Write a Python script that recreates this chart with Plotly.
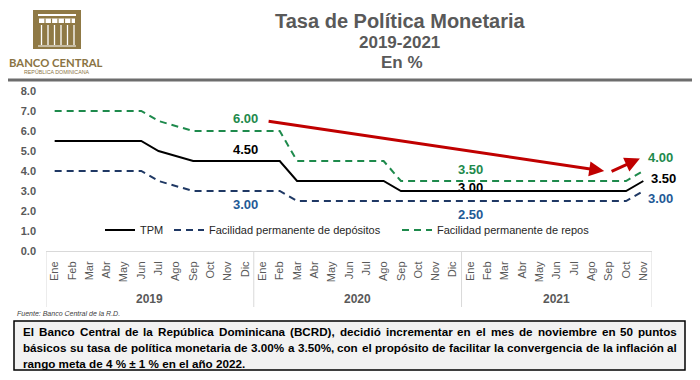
import plotly.graph_objects as go

# ---------------- data ----------------
years = ["2019", "2020", "2021"]
months_2019 = ["Ene", "Feb", "Mar", "Abr", "May", "Jun", "Jul", "Ago", "Sep", "Oct", "Nov", "Dic"]
months_2020 = ["Ene", "Feb", "Mar", "Abr", "May", "Jun", "Jul", "Ago", "Sep", "Oct", "Nov", "Dic"]
months_2021 = ["Ene", "Feb", "Mar", "Abr", "May", "Jun", "Jul", "Ago", "Sep", "Oct", "Nov"]

tpm = [5.50, 5.50, 5.50, 5.50, 5.50, 5.50, 5.00, 4.75, 4.50, 4.50, 4.50, 4.50,
       4.50, 4.50, 3.50, 3.50, 3.50, 3.50, 3.50, 3.50, 3.00, 3.00, 3.00, 3.00,
       3.00, 3.00, 3.00, 3.00, 3.00, 3.00, 3.00, 3.00, 3.00, 3.00, 3.50]
depositos = [4.00, 4.00, 4.00, 4.00, 4.00, 4.00, 3.50, 3.25, 3.00, 3.00, 3.00, 3.00,
             3.00, 3.00, 2.50, 2.50, 2.50, 2.50, 2.50, 2.50, 2.50, 2.50, 2.50, 2.50,
             2.50, 2.50, 2.50, 2.50, 2.50, 2.50, 2.50, 2.50, 2.50, 2.50, 3.00]
repos = [7.00, 7.00, 7.00, 7.00, 7.00, 7.00, 6.50, 6.25, 6.00, 6.00, 6.00, 6.00,
         6.00, 6.00, 4.50, 4.50, 4.50, 4.50, 4.50, 4.50, 3.50, 3.50, 3.50, 3.50,
         3.50, 3.50, 3.50, 3.50, 3.50, 3.50, 3.50, 3.50, 3.50, 3.50, 4.00]

series_names = ["TPM", "Facilidad permanente de depósitos", "Facilidad permanente de repos"]
label_points = [11, 24, 34]          # indices with data labels
y_ticks = [0, 1, 2, 3, 4, 5, 6, 7, 8]

title_lines = ["Tasa de Política Monetaria", "2019-2021", "En %"]
source_text = "Fuente: Banco Central de la R.D."
note_lines = [
    "El Banco Central de la República Dominicana (BCRD), decidió incrementar en el mes de noviembre en 50 puntos",
    "básicos su tasa de política monetaria de 3.00% a 3.50%, con el propósito de facilitar la convergencia de la inflación al",
    "rango meta de 4 % ± 1 % en el año 2022.",
]

# ---------------- layout helpers ----------------
# the page body has an 8px margin, so the figure is 8px smaller than the window
OFF = 8
W, H = 700 - OFF, 380 - OFF
ML, MR, MT, MB = 46 - OFF, 48, 91 - OFF, 129
PW, PH = W - ML - MR, H - MT - MB


def PX(x):   # window pixel x -> paper x
    return (x - OFF - ML) / PW


def PY(y):   # window pixel y -> paper y
    return (H - MB - (y - OFF)) / PH


months = months_2019 + months_2020 + months_2021
idx = list(range(len(months)))

C_TPM = "#000000"
C_DEP = "#1F3864"
C_REP = "#1E8A4C"
C_DEP_LBL = "#1F5A96"
C_REP_LBL = "#1E8A4C"
GRAY = "#595959"
FONT = "Liberation Sans, Arial, sans-serif"

fig = go.Figure()
fig.add_trace(go.Scatter(x=idx, y=tpm, mode="lines", name=series_names[0], legend="legend",
                         line=dict(color=C_TPM, width=2)))
fig.add_trace(go.Scatter(x=idx, y=depositos, mode="lines", name=series_names[1], legend="legend2",
                         line=dict(color=C_DEP, width=2, dash="7px,5px")))
fig.add_trace(go.Scatter(x=idx, y=repos, mode="lines", name=series_names[2], legend="legend3",
                         line=dict(color=C_REP, width=2, dash="7px,5px")))

ann = []
shapes = []


def text_ann(x, y, text, font, xanchor="center", yanchor="middle", xref="paper", yref="paper", **kw):
    d = dict(x=x, y=y, xref=xref, yref=yref, text=text, showarrow=False,
             xanchor=xanchor, yanchor=yanchor, font=font)
    d.update(kw)
    ann.append(d)


# data labels
lbl_font = dict(family=FONT, size=13, weight="bold")
offsets = {
    11: dict(rep=(0, 13), tpm=(0, 12), dep=(0, -13)),
    24: dict(rep=(0, 12), tpm=(0, 4), dep=(0, -13)),
    34: dict(rep=(17, 14), tpm=(20, 3), dep=(17, -7)),
}
for i in label_points:
    o = offsets[i]
    for key, ser, col in (("rep", repos, C_REP_LBL), ("tpm", tpm, C_TPM), ("dep", depositos, C_DEP_LBL)):
        text_ann(i, ser[i], f"{ser[i]:.2f}", dict(color=col, **lbl_font), xref="x", yref="y",
                 xshift=o[key][0], yshift=o[key][1])

# red arrows (decoration)
arrow1 = dict(tail=(12.27, 6.50), tip=(31.74, 4.00))
arrow2 = dict(tail=(32.08, 3.95), tip=(33.80, 4.63))
for a in (arrow1, arrow2):
    ann.append(dict(x=a["tip"][0], y=a["tip"][1], ax=a["tail"][0], ay=a["tail"][1],
                    xref="x", yref="y", axref="x", ayref="y", text="", showarrow=True,
                    arrowhead=2, arrowsize=1.0, arrowwidth=3, arrowcolor="#C00000"))

# category table below axis
groups = [months_2019, months_2020, months_2021]
start = 0
bounds = [-0.5]
for yr, g in zip(years, groups):
    center = start + (len(g) - 1) / 2
    text_ann(center, PY(299), yr, dict(family=FONT, size=12, weight="bold", color=GRAY), xref="x")
    start += len(g)
    bounds.append(start - 0.5)
for b in bounds:
    shapes.append(dict(type="line", xref="x", yref="paper", x0=b, x1=b, y0=0, y1=PY(307),
                       line=dict(color="#d9d9d9", width=1)))

# title
for txt, yy, sz, xx in zip(title_lines, (21, 42, 62), (20, 17, 17), (400.5, 399.5, 401.5)):
    text_ann(PX(xx), PY(yy), txt, dict(family=FONT, size=sz, weight="bold", color=GRAY))

# header rule
shapes.append(dict(type="line", xref="paper", yref="paper", x0=PX(8), x1=PX(692), y0=PY(80), y1=PY(80),
                   line=dict(color="#6d6d6d", width=3)))

# logo
GOLD = "#8F7945"
shapes.append(dict(type="rect", xref="paper", yref="paper", x0=PX(33), x1=PX(81), y0=PY(49), y1=PY(10),
                   fillcolor=GOLD, line=dict(width=0)))
shapes.append(dict(type="rect", xref="paper", yref="paper", x0=PX(38), x1=PX(76), y0=PY(16), y1=PY(14),
                   fillcolor="white", line=dict(width=0)))
shapes.append(dict(type="rect", xref="paper", yref="paper", x0=PX(39), x1=PX(75), y0=PY(23), y1=PY(18.5),
                   fillcolor="white", line=dict(width=0)))
for cx in (45, 51.5, 58, 64.5, 71):
    shapes.append(dict(type="line", xref="paper", yref="paper", x0=PX(cx), x1=PX(cx), y0=PY(23), y1=PY(18.5),
                       line=dict(color=GOLD, width=1.2)))
for cx in (41.5, 48, 54.5, 61, 67.5, 74):
    shapes.append(dict(type="line", xref="paper", yref="paper", x0=PX(cx), x1=PX(cx), y0=PY(45), y1=PY(25),
                       line=dict(color="white", width=1.3)))
shapes.append(dict(type="line", xref="paper", yref="paper", x0=PX(38), x1=PX(76), y0=PY(46), y1=PY(46),
                   line=dict(color="white", width=1.2)))
text_ann(PX(56), PY(62), "BANCO CENTRAL",
         dict(family="Lato, Liberation Sans, Arial", size=11.3, weight="bold", color="#8A7444"))
text_ann(PX(56.5), PY(71.5), "REPÚBLICA DOMINICANA",
         dict(family="Liberation Sans, Arial", size=5.3, color="#8A7444"))

# source
text_ann(PX(15), PY(313), source_text, dict(family=FONT, size=7, style="italic", color="#404040"),
         xanchor="left")

# note box (text justified word by word, Arial/Liberation bold metrics)
shapes.append(dict(type="rect", xref="paper", yref="paper", x0=PX(14), x1=PX(685), y0=PY(370), y1=PY(321),
                   fillcolor="#f2f2f2", line=dict(color="#000000", width=1.5)))
CW = {" ": 278, "%": 889, "(": 333, ")": 333, ",": 278, "-": 333, ".": 278, "±": 549}
for ch in "0123456789":
    CW[ch] = 556
for ch, w in zip("ABCDEFGHIJKLMNOPQRSTUVWXYZ",
                 [722, 722, 722, 722, 667, 611, 778, 722, 278, 556, 722, 611, 833, 722, 778, 667, 778,
                  722, 667, 611, 722, 667, 944, 667, 667, 611]):
    CW[ch] = w
for ch, w in zip("abcdefghijklmnopqrstuvwxyz",
                 [556, 611, 556, 611, 556, 333, 611, 611, 278, 278, 556, 278, 889, 611, 611, 611, 611,
                  389, 556, 333, 611, 556, 778, 556, 556, 500]):
    CW[ch] = w
CW.update({"á": 556, "é": 556, "í": 278, "ó": 611, "ú": 611, "ñ": 611})


def em(s):
    return sum(CW.get(c, 556) for c in s) / 1000.0


BOX_L, BOX_R = 22, 676
note_size = min(13.0, (BOX_R - BOX_L - 4) / max(em(l) for l in note_lines))
note_font = dict(family=FONT, size=note_size, weight="bold", color="#000000")
for li, (txt, yy) in enumerate(zip(note_lines, (331, 347, 363))):
    words = txt.split(" ")
    if li < len(note_lines) - 1:
        ww = [em(w) * note_size for w in words]
        gap = (BOX_R - BOX_L - sum(ww)) / (len(words) - 1)
        xpos = BOX_L
        for w, wpx in zip(words, ww):
            text_ann(PX(xpos), PY(yy), w, note_font, xanchor="left", borderpad=0)
            xpos += wpx + gap
    else:
        text_ann(PX(BOX_L), PY(yy), txt, note_font, xanchor="left", borderpad=0)

leg_common = dict(orientation="h", xanchor="left", yanchor="middle", bgcolor="rgba(0,0,0,0)",
                  font=dict(family=FONT, size=11, color="#262626"))

fig.update_layout(
    width=W, height=H,
    margin=dict(l=ML, r=MR, t=MT, b=MB, autoexpand=False),
    plot_bgcolor="white", paper_bgcolor="white",
    font=dict(family=FONT),
    showlegend=True,
    legend=dict(x=PX(140 - 40), y=PY(230), **leg_common),
    legend2=dict(x=PX(209 - 40), y=PY(230), **leg_common),
    legend3=dict(x=PX(437 - 40), y=PY(230), **leg_common),
    xaxis=dict(range=[-0.5, len(months) - 0.5], tickvals=idx, ticktext=months, tickangle=-90,
               tickfont=dict(family=FONT, size=11, color=GRAY), showgrid=False, zeroline=False,
               showline=True, linecolor="#d9d9d9", linewidth=1, ticks="", automargin=False,
               ticklabelstandoff=5),
    yaxis=dict(range=[0, 8], tickvals=y_ticks, ticktext=[f"{v:.1f}" for v in y_ticks],
               tickfont=dict(family=FONT, size=11, weight="bold", color=GRAY), showgrid=False,
               zeroline=False, showline=False, ticks="", automargin=False, ticklabelstandoff=9),
    annotations=ann,
    shapes=shapes,
)

fig.write_html("out.html")
